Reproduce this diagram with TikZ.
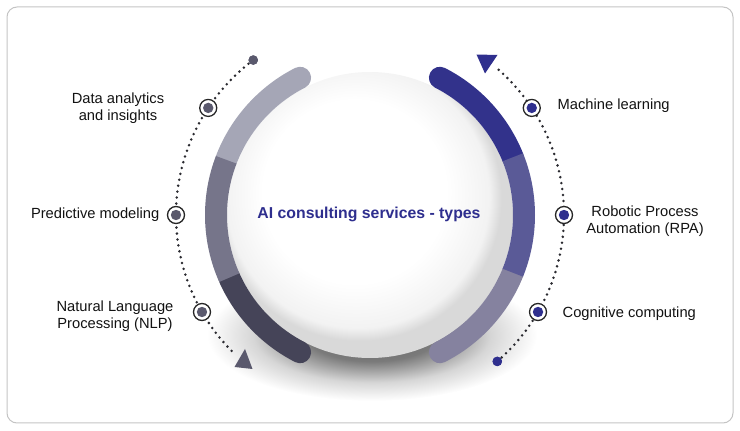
\documentclass[tikz,border=0pt]{standalone}
\usepackage{fontspec}
\setmainfont{Liberation Sans}
\definecolor{bordercol}{HTML}{C4C4C4}
\definecolor{lgA}{HTML}{A5A6B6}
\definecolor{lgB}{HTML}{76758A}
\definecolor{lgC}{HTML}{454458}
\definecolor{rbA}{HTML}{32328B}
\definecolor{rbB}{HTML}{5A5A97}
\definecolor{rbC}{HTML}{85829F}
\definecolor{lgdot}{HTML}{5A596D}
\definecolor{rbdot}{HTML}{2F2F8E}
\definecolor{dotcol}{HTML}{2A2A30}
\definecolor{textcol}{HTML}{121212}
\definecolor{titlecol}{HTML}{2E2E8E}
\pgfdeclareradialshading{sphsh}{\pgfpoint{-4bp}{6bp}}{color(0bp)=(white); color(16bp)=(white); color(23bp)=(black!5); color(25bp)=(black!15); color(50bp)=(black!15)}
\pgfdeclareradialshading{shadowsh}{\pgfpoint{0bp}{0bp}}{color(0bp)=(black!62); color(10bp)=(black!52); color(18bp)=(black!16); color(25bp)=(white); color(50bp)=(white)}
\begin{document}
\begin{tikzpicture}[x=1pt,y=1pt,
  arcw/.style={line width=22pt},
  dotline/.style={dotcol, line width=2.8pt, line cap=round, dash pattern=on 0pt off 6pt},
  ringmark/.style={circle, draw=black!85, line width=1.3pt, fill=white, minimum size=17pt, inner sep=0pt,
     path picture={\fill[#1] (path picture bounding box.center) circle[radius=5.2pt];}},
  enddot/.style={circle, inner sep=0pt, minimum size=9.5pt},
  lbl/.style={font=\fontsize{14.7}{17}\selectfont, text=textcol, align=center, inner sep=0pt},
  ttl/.style={font=\bfseries\fontsize{15.8}{18}\selectfont, text=titlecol, inner sep=0pt}]
\useasboundingbox (0,0) rectangle (740,431);
\draw[bordercol, rounded corners=10pt, line width=1pt] (7,8) rectangle (733,424);
\coordinate (C) at (370,216);
% shadow and sphere
\shade[shading=shadowsh] (372,96) ellipse [x radius=165, y radius=66];
\shade[shading=sphsh] (C) circle[radius=143];
% left arc
\draw[arcw, lgA, line cap=round] ([shift={(117:154)}]C) arc[start angle=117, end angle=159, radius=154];
\draw[arcw, lgC, line cap=round] ([shift={(204:154)}]C) arc[start angle=204, end angle=243, radius=154];
\draw[arcw, lgB] ([shift={(159:154)}]C) arc[start angle=159, end angle=204, radius=154];
% right arc
\draw[arcw, rbA, line cap=round] ([shift={(63:154)}]C) arc[start angle=63, end angle=22, radius=154];
\draw[arcw, rbC, line cap=round] ([shift={(-22:154)}]C) arc[start angle=-22, end angle=-63, radius=154];
\draw[arcw, rbB] ([shift={(22:154)}]C) arc[start angle=22, end angle=-22, radius=154];
% dotted arcs
\node[enddot, fill=lgdot] (dotL) at ([shift={(127:194)}]C) {};
\node[enddot, fill=rbdot] (dotR) at ([shift={(-49:194)}]C) {};
\draw[dotline] (dotL.center) arc[start angle=127, end angle=225, radius=194];
\draw[dotline] (dotR.center) arc[start angle=-49, end angle=50, radius=194];
\node[enddot, fill=lgdot] at (dotL) {};
\node[enddot, fill=rbdot] at (dotR) {};
% arrow heads
\fill[lgdot] (245,82) -- (234.5,64) -- (252.5,62) -- cycle;
\fill[rbdot] (476.5,376.5) -- (497.5,376) -- (485,357.5) -- cycle;
% markers
\node[ringmark=lgdot] (m1) at ([shift={(146.5:194)}]C) {};
\node[ringmark=lgdot] (m2) at ([shift={(180:194)}]C) {};
\node[ringmark=lgdot] (m3) at ([shift={(210:194)}]C) {};
\node[ringmark=rbdot] (m4) at ([shift={(33.5:194)}]C) {};
\node[ringmark=rbdot] (m5) at ([shift={(0:194)}]C) {};
\node[ringmark=rbdot] (m6) at ([shift={(-30:194)}]C) {};
% labels
\node[lbl] (t1) at (118,322.5) {Data analytics\\and insights};
\node[lbl, anchor=east] (t2) at (159.5,216) {Predictive modeling};
\node[lbl] (t3) at (115,115) {Natural Language\\Processing (NLP)};
\node[lbl, anchor=west] (t4) at (557.5,325) {Machine learning};
\node[lbl] (t5) at (645,209.5) {Robotic Process\\Automation (RPA)};
\node[lbl, anchor=west] (t6) at (562.5,117) {Cognitive computing};
\node[ttl] (title) at (369,217) {AI consulting services - types};
\end{tikzpicture}
\end{document}
